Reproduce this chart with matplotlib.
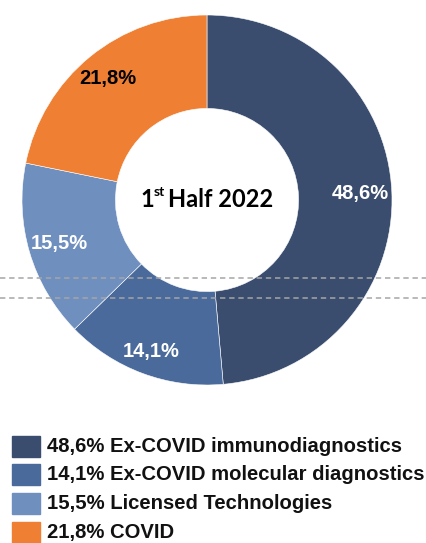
import matplotlib.pyplot as plt
import numpy as np
from matplotlib.lines import Line2D
from matplotlib.patches import Rectangle

segments = ["Ex-COVID immunodiagnostics", "Ex-COVID molecular diagnostics",
            "Licensed Technologies", "COVID"]
shares = [48.6, 14.1, 15.5, 21.8]
colors = ["#3a4d6e", "#4a6a9b", "#6f8fbf", "#ee7f33"]
label_colors = ["white", "white", "white", "black"]
label_r = [0.83, 0.875, 0.83, 0.845]

W, H = 427, 543
fig = plt.figure(figsize=(W / 100, H / 100), dpi=100)

# donut: centre (207, 200) px from top, outer radius 185 px
cx, cy, R = 207, 200, 185
ax = fig.add_axes([(cx - R) / W, (H - cy - R) / H, 2 * R / W, 2 * R / H])
wedges, _ = ax.pie(shares, colors=colors, startangle=90, counterclock=False,
                   radius=1, wedgeprops=dict(width=0.505, edgecolor="white", linewidth=0.4))
ax.set_xlim(-1, 1)
ax.set_ylim(-1, 1)
ax.set_aspect("equal")

for w, v, c, r in zip(wedges, shares, label_colors, label_r):
    ang = np.deg2rad((w.theta1 + w.theta2) / 2)
    ax.text(r * np.cos(ang), r * np.sin(ang), f"{v:.1f}%".replace(".", ","),
            ha="center", va="center", color=c, fontsize=14.5, fontweight="bold",
            family="Liberation Sans")

# centre title with superscript
fnt = dict(family="Lato", fontweight="bold", color="black")
t1 = ax.text(0, 0, "1", ha="left", va="baseline", fontsize=17, **fnt)
t2 = ax.annotate("st", xy=(1, 0.55), xycoords=t1, ha="left", va="bottom",
                 fontsize=10, **fnt)
t3 = ax.annotate("\u2009Half 2022", xy=(1, 0), xycoords=(t2, t1), ha="left",
                 va="bottom", fontsize=17, **fnt)
fig.canvas.draw()
rend = fig.canvas.get_renderer()
x0 = t1.get_window_extent(rend).x0
x1 = t3.get_window_extent(rend).x1
half = (x1 - x0) / 2
pos = ax.transData.inverted().transform((cx - half, H - 207))
t1.set_position((pos[0], pos[1]))

# dashed guide lines
for yy in [278, 298]:
    fig.add_artist(Line2D([0, 1], [1 - yy / H] * 2, color="#a6a6a6",
                          lw=1.1, ls=(0, (3.5, 2.5))))

# legend
for i, (s, v, c) in enumerate(zip(segments, shares, colors)):
    yc = 446 + i * 28.7
    fig.add_artist(Rectangle((12 / W, 1 - (yc + 10.5) / H), 28 / W, 21 / H,
                             transform=fig.transFigure, color=c))
    fig.text(47 / W, 1 - yc / H, f"{v:.1f}% {s}".replace(".", ",", 1),
             ha="left", va="center", fontsize=14.6, fontweight="bold",
             family="Liberation Sans", color="#111111")

fig.savefig("out.png", dpi=100)
